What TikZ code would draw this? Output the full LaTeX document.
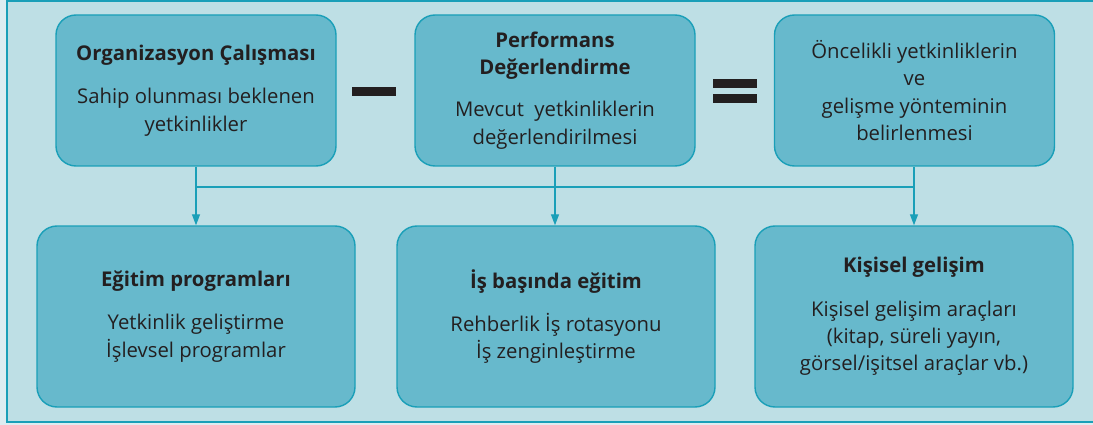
\documentclass[tikz,border=0pt]{standalone}
\usepackage{fontspec}
\setmainfont{Open Sans}
\usetikzlibrary{arrows.meta}
\definecolor{outerbg}{HTML}{DDEDF1}
\definecolor{framebg}{HTML}{BEDFE5}
\definecolor{boxfill}{HTML}{67B9CC}
\definecolor{boxline}{HTML}{1A9FB8}
\definecolor{txt}{HTML}{231F20}
\tikzset{
  box/.style={draw=boxline, fill=boxfill, line width=1.4pt, rounded corners=20pt,
    align=center, text=txt, font=\fontsize{20.3}{27.3}\selectfont, inner sep=0pt},
  topbox/.style={box, minimum width=280pt, minimum height=151pt},
  botbox/.style={box, minimum width=318pt, minimum height=181pt},
  conn/.style={draw=boxline, line width=1.3pt},
  arr/.style={conn, -{Triangle[length=11pt,width=8pt]}},
  sign/.style={fill=txt, draw=none, inner sep=0pt, minimum width=44pt, minimum height=9pt}
}
\begin{document}
\begin{tikzpicture}[x=1pt,y=-1pt]
\useasboundingbox (0,0) rectangle (1093,425);
\fill[outerbg] (0,0) rectangle (1093,425);
\fill[framebg] (7,1) rectangle (1100,422);
\draw[boxline, line width=1.4pt] (1100,1) -- (7,1) -- (7,422) -- (1100,422);

\node[topbox] (b1) at (196,90.5) {\textbf{Organizasyon Çalışması}\\[16pt]Sahip olunması beklenen\\yetkinlikler};
\node[topbox] (b2) at (555,90.5) {\textbf{Performans}\\\textbf{Değerlendirme}\\[15pt]Mevcut\ \ yetkinliklerin\\değerlendirilmesi};
\node[topbox] (b3) at (914.5,90.5) {Öncelikli yetkinliklerin\\ve\\gelişme yönteminin\\belirlenmesi};

\node[botbox] (b4) at (196,316.5) {\textbf{Eğitim programları}\\[16pt]Yetkinlik geliştirme\\İşlevsel programlar};
\node[botbox] (b5) at (556,316.5) {\textbf{İş başında eğitim}\\[16pt]Rehberlik İş rotasyonu\\İş zenginleştirme};
\node[botbox] (b6) at (914,316.5) {\textbf{Kişisel gelişim}\\[16pt]Kişisel gelişim araçları\\(kitap, süreli yayın,\\görsel/işitsel araçlar vb.)};

\node[sign] (minus) at (374,92) {};
\node[sign] (eq1) at (735,84) {};
\node[sign] (eq2) at (735,98.5) {};

\coordinate (hl) at (196,187);
\coordinate (hr) at (914,187);
\draw[conn] (b1.south) -- (hl) -- (hr) -- (hr |- b3.south);
\draw[arr] (hl) -- (b4.north);
\draw[arr] (b2.south) -- (b2.south |- b5.north);
\draw[arr] (hr) -- (hr |- b6.north);
\end{tikzpicture}
\end{document}
